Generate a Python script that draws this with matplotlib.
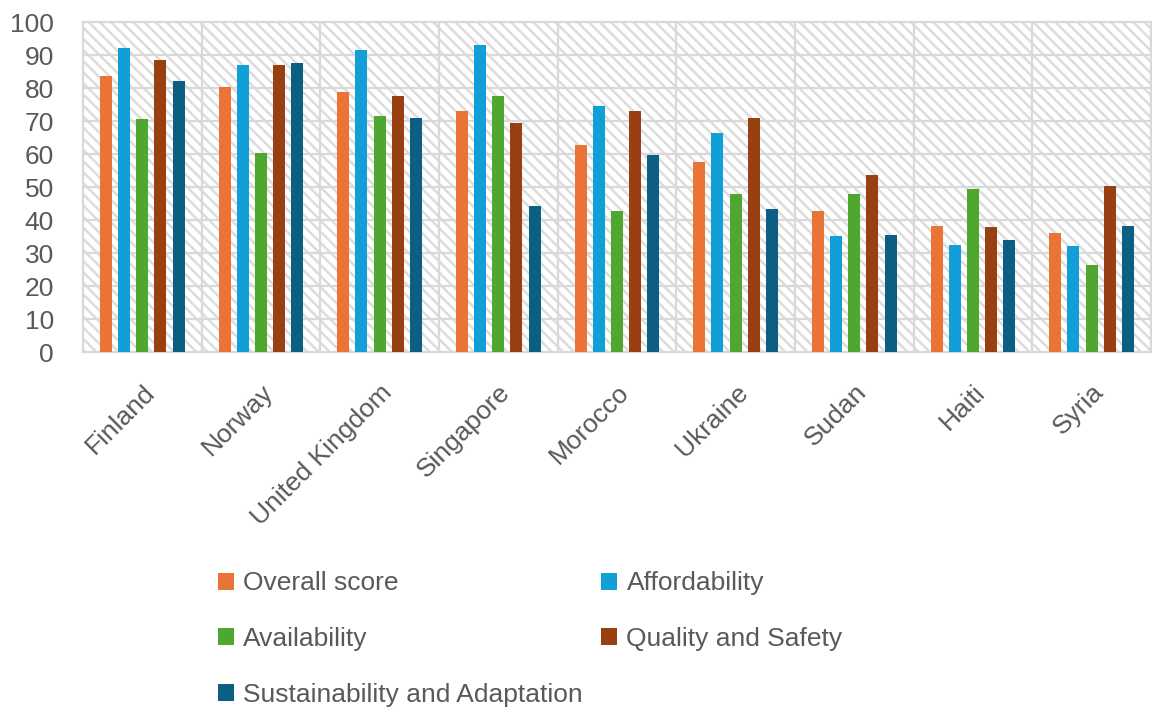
import numpy as np
import matplotlib.pyplot as plt
from matplotlib.patches import Rectangle

# Data
countries = ["Finland", "Norway", "United Kingdom", "Singapore", "Morocco",
             "Ukraine", "Sudan", "Haiti", "Syria"]
overall = [83.8, 80.3, 78.7, 73.1, 62.7, 57.7, 42.8, 38.2, 36.1]
affordability = [92.1, 86.9, 91.5, 93.1, 74.6, 66.4, 35.1, 32.6, 32.1]
availability = [70.5, 60.2, 71.5, 77.7, 42.8, 48.0, 48.0, 49.5, 26.4]
quality = [88.5, 86.9, 77.7, 69.4, 73.1, 71.0, 53.6, 37.8, 50.5]
sustainability = [82.3, 87.5, 71.0, 44.3, 59.7, 43.3, 35.6, 34.1, 38.2]

series_names = ["Overall score", "Affordability", "Availability",
                "Quality and Safety", "Sustainability and Adaptation"]
colors = ["#ea7436", "#129fd8", "#4fa72f", "#994013", "#0c5f82"]

plt.rcParams["font.family"] = ["Liberation Sans", "DejaVu Sans"]
plt.rcParams["hatch.color"] = "#dcdcdc"
plt.rcParams["hatch.linewidth"] = 1.8
text_color = "#595959"
grid_color = "#d9d9d9"

fig = plt.figure(figsize=(11.52, 7.13), dpi=100)
ax = fig.add_axes([0.072, 0.506, 0.927, 0.463])

n = len(countries)
x = np.arange(n)

# hatched background
ax.add_patch(Rectangle((0, 0), 1, 1, transform=ax.transAxes, facecolor="white",
                       edgecolor="#dcdcdc", hatch="\\\\\\", linewidth=0, zorder=0))

all_series = [overall, affordability, availability, quality, sustainability]
step = 0.153
width = 0.101
for i, (vals, name, c) in enumerate(zip(all_series, series_names, colors)):
    ax.bar(x + (i - 2) * step, vals, width=width, color=c, label=name, zorder=3)

ax.set_xlim(-0.5, n - 0.5)
ax.set_ylim(0, 100)
ax.set_yticks(range(0, 101, 10))

# grid
for y in range(10, 100, 10):
    ax.axhline(y, color=grid_color, linewidth=1.6, zorder=1)
for xv in np.arange(0.5, n - 0.5, 1):
    ax.axvline(xv, color=grid_color, linewidth=1.6, zorder=1)
for s in ax.spines.values():
    s.set_color(grid_color)
    s.set_linewidth(1.6)

ax.set_xticks(x)
ax.set_xticklabels(countries, rotation=45, ha="right", rotation_mode="anchor")
ax.tick_params(axis="both", length=0, colors=text_color, labelsize=19)
ax.tick_params(axis="x", pad=20)
ax.tick_params(axis="y", pad=21)

# legend filled row by row, as in the original
handles, labels = ax.get_legend_handles_labels()
order = [0, 2, 4, 1, 3]
fig.legend([handles[i] for i in order], [labels[i] for i in order], ncol=2,
           loc="upper left", bbox_to_anchor=(0.178, 0.217),
           frameon=False, fontsize=19, labelcolor=text_color, handlelength=0.6,
           handleheight=0.6, handletextpad=0.35, columnspacing=0.7,
           labelspacing=1.2, borderpad=0)

fig.savefig("out.png", dpi=100)
